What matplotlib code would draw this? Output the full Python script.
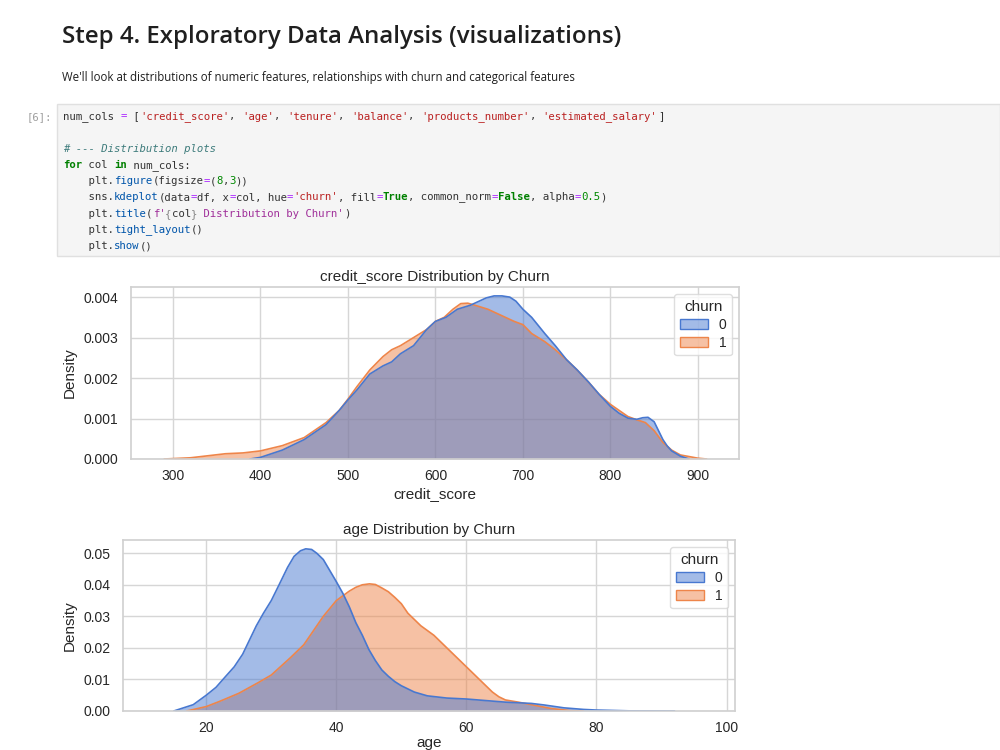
import matplotlib
matplotlib.use("Agg")
import matplotlib.pyplot as plt
from matplotlib.patches import Rectangle, Patch
from matplotlib.ticker import FormatStrFormatter
import seaborn as sns

sns.set_style("whitegrid")
plt.rcParams['font.family'] = ['Liberation Sans', 'DejaVu Sans']

# --- values (kde curves per churn level)
cs_x0 = [388, 400, 425, 450, 475, 490, 500, 510, 525, 540, 550, 560, 575, 590,
         600, 612, 625, 640, 650, 658, 667, 676, 685, 692, 700, 710, 725, 737,
         750, 762, 775, 787, 800, 810, 820, 830, 837, 843, 850, 855, 860, 865,
         870, 880, 890]
cs_y0 = [0.0, 0.00004, 0.00022, 0.00048, 0.00085, 0.0012, 0.00146, 0.0017,
         0.0021, 0.0023, 0.0024, 0.0026, 0.0028, 0.0032, 0.0034, 0.0035,
         0.0037, 0.0038, 0.0039, 0.00398, 0.00403, 0.00403, 0.0040, 0.0039,
         0.0037, 0.0035, 0.0031, 0.0028, 0.00245, 0.0022, 0.0019, 0.0016,
         0.0013, 0.00113, 0.00101, 0.00098, 0.00102, 0.00103, 0.00092, 0.0007,
         0.00048, 0.00032, 0.0002, 0.00007, 0.0]
cs_x1 = [290, 320, 340, 360, 380, 400, 425, 450, 475, 490, 500, 510, 525, 540,
         550, 560, 575, 590, 600, 610, 620, 629, 637, 645, 660, 670, 680, 690,
         700, 710, 725, 737, 750, 762, 775, 787, 800, 810, 820, 830, 840, 850,
         860, 870, 880, 900, 910]
cs_y1 = [0.0, 0.00003, 0.00008, 0.00013, 0.00015, 0.0002, 0.00033, 0.00053,
         0.0009, 0.0012, 0.00148, 0.00178, 0.0022, 0.00253, 0.0027, 0.0028,
         0.0030, 0.0032, 0.0034, 0.0035, 0.0037, 0.00384, 0.00385, 0.0038,
         0.0037, 0.0036, 0.0035, 0.0034, 0.00332, 0.0031, 0.0029, 0.0027,
         0.00245, 0.0022, 0.0019, 0.0016, 0.00135, 0.0012, 0.00105, 0.00097,
         0.0009, 0.0007, 0.00041, 0.00022, 0.0001, 0.00002, 0.0]

age_x0 = [15, 18, 20, 21.5, 23, 24.3, 25.6, 27.7, 28.8, 30, 31.2, 32.5, 33.5,
          34.5, 35.3, 36.2, 37, 38, 39, 40, 41, 42, 43, 44, 45, 46, 47, 48, 49,
          50, 52, 54, 57, 60, 63, 66, 70, 72, 75, 78, 80, 85, 92]
age_y0 = [0.0, 0.002, 0.005, 0.0075, 0.011, 0.014, 0.018, 0.027, 0.031, 0.035,
          0.040, 0.0455, 0.049, 0.0508, 0.0514, 0.0512, 0.050, 0.048, 0.0445,
          0.041, 0.0373, 0.033, 0.028, 0.024, 0.0195, 0.016, 0.013, 0.011,
          0.0093, 0.008, 0.006, 0.0048, 0.0041, 0.0038, 0.0033, 0.0028, 0.0024,
          0.0019, 0.001, 0.0005, 0.0003, 0.00005, 0.0]
age_x1 = [17, 20, 22, 25, 28, 30, 33, 35, 36.5, 38, 40, 42, 43, 44, 45.1, 46,
          47, 48, 49, 50, 51, 52, 53, 55, 56, 58, 60, 62, 64, 65, 66, 68, 70,
          73, 76, 78]
age_y1 = [0.0, 0.0014, 0.003, 0.0056, 0.009, 0.0114, 0.017, 0.021, 0.0255,
          0.030, 0.035, 0.038, 0.0392, 0.0400, 0.0403, 0.0401, 0.039, 0.0378,
          0.036, 0.034, 0.031, 0.029, 0.027, 0.024, 0.022, 0.018, 0.014, 0.010,
          0.006, 0.0045, 0.0035, 0.0028, 0.002, 0.0008, 0.0001, 0.0]

churn_levels = ['0', '1']
colors = ['#4878d0', '#ee854a']

heading = "Step 4. Exploratory Data Analysis (visualizations)"
intro = ("We'll look at distributions of numeric features, relationships "
         "with churn and categorical features")

fig = plt.figure(figsize=(10, 7.5), dpi=100)

def fx(x):
    return x / 1000.0

def fy(y):
    return 1 - y / 750.0

# --- notebook text
fig.text(fx(62), fy(37), heading, family='Open Sans', weight='semibold',
         fontsize=17.3, color='#1f1f1f', va='center', ha='left')
fig.text(fx(62), fy(78), intro, family='Open Sans', fontsize=8.3,
         color='#1f1f1f', va='center', ha='left')

# --- code cell
fig.patches.append(Rectangle((fx(57), fy(256)), fx(1000 - 57), 152 / 750.0,
                             transform=fig.transFigure, facecolor='#f5f5f5',
                             edgecolor='#e0e0e0', lw=1))
fig.text(fx(52), fy(117), "[6]:", family='DejaVu Sans Mono', fontsize=7.6,
         color='#9e9e9e', ha='right', va='center')

D, S, K, N, O, P, C, F = ('#333333', '#ba2121', '#008000', '#008800',
                          '#aa22ff', '#0055aa', '#3d7b7b', '#a0309a')
code = [
    [("num_cols ", D), ("=", O), (" [", D), ("'credit_score'", S), (", ", D),
     ("'age'", S), (", ", D), ("'tenure'", S), (", ", D), ("'balance'", S),
     (", ", D), ("'products_number'", S), (", ", D),
     ("'estimated_salary'", S), ("]", D)],
    [],
    [("# --- Distribution plots", C)],
    [("for", K), (" col ", D), ("in", K), (" num_cols:", D)],
    [("    plt.", D), ("figure", P), ("(figsize", D), ("=", O), ("(", D),
     ("8", N), (",", D), ("3", N), ("))", D)],
    [("    sns.", D), ("kdeplot", P), ("(data", D), ("=", O), ("df, x", D),
     ("=", O), ("col, hue", D), ("=", O), ("'churn'", S), (", fill", D),
     ("=", O), ("True", K), (", common_norm", D), ("=", O), ("False", K),
     (", alpha", D), ("=", O), ("0.5", N), (")", D)],
    [("    plt.", D), ("title", P), ("(", D), ("f'", F), ("{", '#888888'),
     ("col", D), ("}", '#888888'), (" Distribution by Churn'", F), (")", D)],
    [("    plt.", D), ("tight_layout", P), ("()", D)],
    [("    plt.", D), ("show", P), ("()", D)],
]
bold_words = {"for", "in", "True", "False"}
code_fs = 7.65
cw = code_fs * 100 / 72 * 0.602
for i, line in enumerate(code):
    col = 0
    y = 116.5 + i * 16.2
    for txt, c in line:
        fig.text(fx(63 + col * cw), fy(y), txt, family='DejaVu Sans Mono',
                 fontsize=code_fs, color=c, ha='left', va='center',
                 style='italic' if c == C else 'normal',
                 weight='bold' if txt in bold_words else 'normal')
        col += len(txt)

# --- kde charts
def kde_panel(rect, xs, ys, xlim, ylim, xticks, yticks, yfmt, xlabel, title,
              xlabelpad=3):
    ax = fig.add_axes(rect)
    for x, y, c in list(zip(xs, ys, colors))[::-1]:
        ax.fill_between(x, 0, y, color=c, alpha=0.5, lw=0)
        ax.plot(x, y, color=c, lw=1.2)
    ax.set_xlim(*xlim)
    ax.set_ylim(*ylim)
    ax.set_xticks(xticks)
    ax.set_yticks(yticks)
    ax.yaxis.set_major_formatter(FormatStrFormatter(yfmt))
    ax.tick_params(axis='x', labelsize=10, pad=7, colors='#262626', length=0)
    ax.tick_params(axis='y', labelsize=10, pad=9, colors='#262626', length=0)
    ax.set_xlabel(xlabel, fontsize=11, color='#262626', labelpad=xlabelpad)
    ax.set_ylabel('Density', fontsize=11, color='#262626', labelpad=5)
    ax.set_title(title, fontsize=11, color='#262626', pad=4)
    for sp in ax.spines.values():
        sp.set_color('#d0d0d0')
        sp.set_linewidth(1.2)
    ax.grid(color='#d6d6d6', lw=1)
    handles = [Patch(facecolor=matplotlib.colors.to_rgba(c, 0.5), edgecolor=c)
               for c in colors]
    ax.legend(handles, churn_levels, title='churn', loc='upper right',
              fontsize=10, title_fontsize=11, framealpha=0.8,
              edgecolor='#d6d6d6', borderpad=0.4, handlelength=2.0,
              labelspacing=0.3)
    return ax

kde_panel([fx(131), fy(459), fx(739 - 131), (459 - 287) / 750.0],
          [cs_x0, cs_x1], [cs_y0, cs_y1], (252, 947), (0, 0.00425),
          [300, 400, 500, 600, 700, 800, 900],
          [0, 0.001, 0.002, 0.003, 0.004], '%.3f', 'credit_score',
          'credit_score Distribution by Churn')

kde_panel([fx(123), fy(711), fx(735 - 123), (711 - 540) / 750.0],
          [age_x0, age_x1], [age_y0, age_y1], (7.2, 101.3), (0, 0.0542),
          [20, 40, 60, 80, 100],
          [0, 0.01, 0.02, 0.03, 0.04, 0.05], '%.2f', 'age',
          'age Distribution by Churn', xlabelpad=1)

fig.savefig('out.png', dpi=100)
